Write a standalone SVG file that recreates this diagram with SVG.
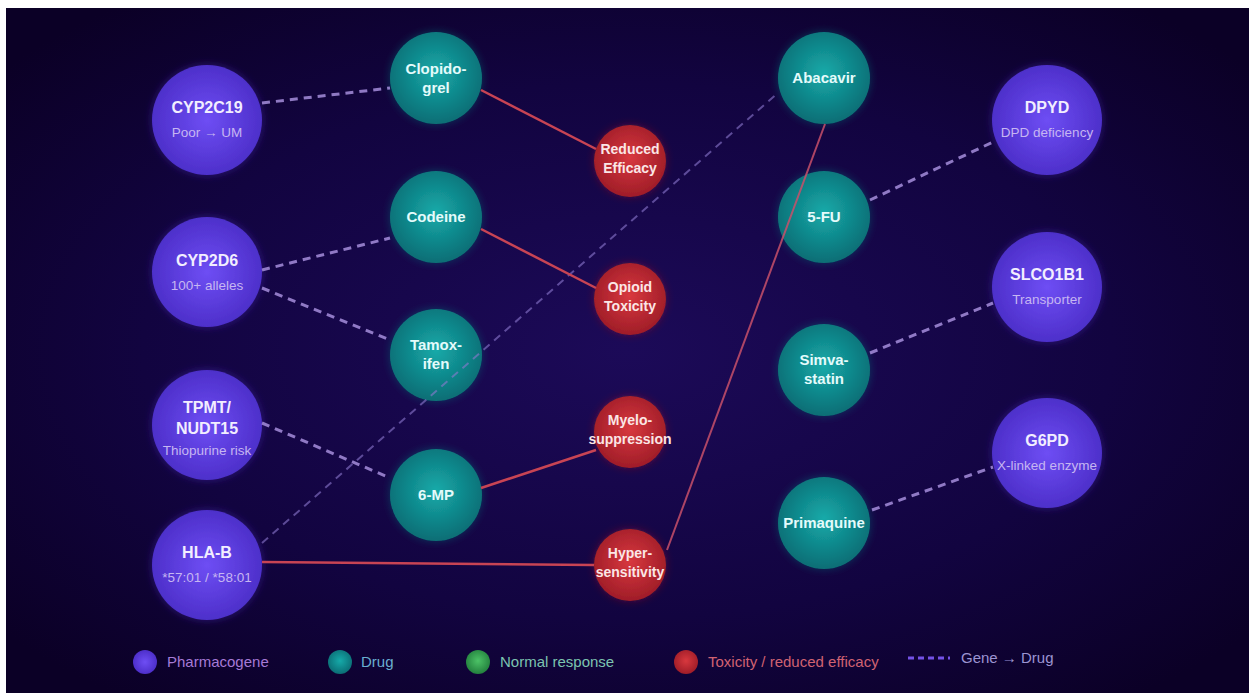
<svg xmlns="http://www.w3.org/2000/svg" width="1249" height="693" viewBox="0 0 1249 693">
  <defs>
    <radialGradient id="bg" cx="50%" cy="50%" r="65%">
      <stop offset="0" stop-color="#1c0a58"/>
      <stop offset="0.6" stop-color="#120440"/>
      <stop offset="1" stop-color="#0b0026"/>
    </radialGradient>
    <radialGradient id="gGene" cx="50%" cy="50%" r="55%">
      <stop offset="0" stop-color="#6e4ef4"/>
      <stop offset="1" stop-color="#4a2cc6"/>
    </radialGradient>
    <radialGradient id="gDrug" cx="50%" cy="45%" r="60%">
      <stop offset="0" stop-color="#16aaa9"/>
      <stop offset="1" stop-color="#0a6870"/>
    </radialGradient>
    <radialGradient id="gOut" cx="50%" cy="45%" r="60%">
      <stop offset="0" stop-color="#d8383e"/>
      <stop offset="1" stop-color="#9a1a26"/>
    </radialGradient>
    <radialGradient id="gOk" cx="50%" cy="45%" r="60%">
      <stop offset="0" stop-color="#4cc266"/>
      <stop offset="1" stop-color="#1f7a3a"/>
    </radialGradient>
    <filter id="glow" x="-30%" y="-30%" width="160%" height="160%">
      <feGaussianBlur in="SourceGraphic" stdDeviation="4" result="b"/>
      <feComponentTransfer in="b" result="bf"><feFuncA type="linear" slope="0.45"/></feComponentTransfer>
      <feMerge><feMergeNode in="bf"/><feMergeNode in="SourceGraphic"/></feMerge>
    </filter>
    <style>
      .gene { fill: url(#gGene); filter: url(#glow); }
      .drug { fill: url(#gDrug); filter: url(#glow); }
      .out { fill: url(#gOut); filter: url(#glow); }
      text { font-family: "Liberation Sans", Arial, sans-serif; text-anchor: middle; }
      .gName { font-size: 16px; font-weight: bold; fill: #f2eeff; }
      .gSub { font-size: 13.5px; fill: #c6b6f2; }
      .dName { font-size: 15px; font-weight: bold; fill: #e4fbfb; }
      .oName { font-size: 14px; font-weight: bold; fill: #fbe6e6; }
      .dash { stroke: #a68edc; stroke-width: 3; stroke-dasharray: 8 6; fill: none; opacity: 0.85; }
      .dashFaint { stroke: #8e7ad0; stroke-width: 2; stroke-dasharray: 8 6; fill: none; opacity: 0.6; }
      .risk { stroke: #c84454; stroke-width: 2.5; fill: none; }
      .riskThin { stroke: #c8506a; stroke-width: 2; fill: none; opacity: 0.85; }
      .leg { font-size: 15px; text-anchor: start; }
    </style>
  </defs>

  <!-- page -->
  <rect x="0" y="0" width="1249" height="693" fill="#ffffff"/>
  <rect x="6" y="8" width="1243" height="685" fill="url(#bg)"/>

  <!-- genes -->
  <g id="node-cyp2c19">
    <circle class="gene" cx="207" cy="120" r="55"/>
    <text class="gName" x="207" y="113">CYP2C19</text>
    <text class="gSub" x="207" y="137">Poor → UM</text>
  </g>
  <g id="node-cyp2d6">
    <circle class="gene" cx="207" cy="272" r="55"/>
    <text class="gName" x="207" y="266">CYP2D6</text>
    <text class="gSub" x="207" y="290">100+ alleles</text>
  </g>
  <g id="node-tpmt">
    <circle class="gene" cx="207" cy="425" r="55"/>
    <text class="gName" x="207" y="413">TPMT/</text>
    <text class="gName" x="207" y="434">NUDT15</text>
    <text class="gSub" x="207" y="455">Thiopurine risk</text>
  </g>
  <g id="node-hlab">
    <circle class="gene" cx="207" cy="565" r="55"/>
    <text class="gName" x="207" y="558">HLA-B</text>
    <text class="gSub" x="207" y="582">*57:01 / *58:01</text>
  </g>
  <g id="node-dpyd">
    <circle class="gene" cx="1047" cy="120" r="55"/>
    <text class="gName" x="1047" y="113">DPYD</text>
    <text class="gSub" x="1047" y="137">DPD deficiency</text>
  </g>
  <g id="node-slco1b1">
    <circle class="gene" cx="1047" cy="287" r="55"/>
    <text class="gName" x="1047" y="280">SLCO1B1</text>
    <text class="gSub" x="1047" y="304">Transporter</text>
  </g>
  <g id="node-g6pd">
    <circle class="gene" cx="1047" cy="453" r="55"/>
    <text class="gName" x="1047" y="446">G6PD</text>
    <text class="gSub" x="1047" y="470">X-linked enzyme</text>
  </g>

  <!-- drugs -->
  <g id="node-clopidogrel">
    <circle class="drug" cx="436" cy="78" r="46"/>
    <text class="dName" x="436" y="74">Clopido-</text>
    <text class="dName" x="436" y="93">grel</text>
  </g>
  <g id="node-codeine">
    <circle class="drug" cx="436" cy="217" r="46"/>
    <text class="dName" x="436" y="222">Codeine</text>
  </g>
  <g id="node-tamoxifen">
    <circle class="drug" cx="436" cy="355" r="46"/>
    <text class="dName" x="436" y="350">Tamox-</text>
    <text class="dName" x="436" y="369">ifen</text>
  </g>
  <g id="node-6mp">
    <circle class="drug" cx="436" cy="495" r="46"/>
    <text class="dName" x="436" y="500">6-MP</text>
  </g>
  <g id="node-abacavir">
    <circle class="drug" cx="824" cy="78" r="46"/>
    <text class="dName" x="824" y="83">Abacavir</text>
  </g>
  <g id="node-5fu">
    <circle class="drug" cx="824" cy="217" r="46"/>
    <text class="dName" x="824" y="222">5-FU</text>
  </g>
  <g id="node-simvastatin">
    <circle class="drug" cx="824" cy="370" r="46"/>
    <text class="dName" x="824" y="365">Simva-</text>
    <text class="dName" x="824" y="384">statin</text>
  </g>
  <g id="node-primaquine">
    <circle class="drug" cx="824" cy="523" r="46"/>
    <text class="dName" x="824" y="528">Primaquine</text>
  </g>

  <!-- outcomes -->
  <g id="node-reduced-efficacy">
    <circle class="out" cx="630" cy="161" r="36"/>
    <text class="oName" x="630" y="154">Reduced</text>
    <text class="oName" x="630" y="173">Efficacy</text>
  </g>
  <g id="node-opioid-toxicity">
    <circle class="out" cx="630" cy="299" r="36"/>
    <text class="oName" x="630" y="292">Opioid</text>
    <text class="oName" x="630" y="311">Toxicity</text>
  </g>
  <g id="node-myelosuppression">
    <circle class="out" cx="630" cy="432" r="36"/>
    <text class="oName" x="630" y="425">Myelo-</text>
    <text class="oName" x="630" y="444">suppression</text>
  </g>
  <g id="node-hypersensitivity">
    <circle class="out" cx="630" cy="565" r="36"/>
    <text class="oName" x="630" y="558">Hyper-</text>
    <text class="oName" x="630" y="577">sensitivity</text>
  </g>

  <!-- connectors -->
  <g id="connectors">
    <line class="dash" x1="262" y1="103" x2="390" y2="88"/>
    <line class="dash" x1="262" y1="270" x2="390" y2="238"/>
    <line class="dash" x1="262" y1="288" x2="390" y2="340"/>
    <line class="dash" x1="262" y1="423" x2="390" y2="478"/>
    <line class="dashFaint" x1="262" y1="543" x2="779" y2="92"/>
    <line class="dash" x1="870" y1="200" x2="993" y2="142"/>
    <line class="dash" x1="870" y1="353" x2="993" y2="303"/>
    <line class="dash" x1="872" y1="510" x2="993" y2="467"/>

    <line class="risk" x1="481" y1="90" x2="596" y2="149"/>
    <line class="risk" x1="481" y1="229" x2="596" y2="288"/>
    <line class="risk" x1="481" y1="488" x2="596" y2="450"/>
    <line class="risk" x1="262" y1="562" x2="594" y2="565"/>
    <line class="riskThin" x1="667" y1="550" x2="825" y2="124"/>
  </g>

  <!-- legend -->
  <g id="legend">
    <circle cx="145" cy="662" r="12" fill="url(#gGene)"/>
    <text class="leg" x="167" y="667" fill="#a67ad6">Pharmacogene</text>
    <circle cx="340" cy="662" r="12" fill="url(#gDrug)"/>
    <text class="leg" x="361" y="667" fill="#6aaed0">Drug</text>
    <circle cx="478" cy="662" r="12" fill="url(#gOk)"/>
    <text class="leg" x="500" y="667" fill="#7cc4b0">Normal response</text>
    <circle cx="686" cy="662" r="12" fill="url(#gOut)"/>
    <text class="leg" x="708" y="667" fill="#d06272">Toxicity / reduced efficacy</text>
    <line x1="908" y1="658" x2="950" y2="658" stroke="#7452e6" stroke-width="3" stroke-dasharray="6 4"/>
    <text class="leg" x="961" y="663" fill="#9c94d2">Gene → Drug</text>
  </g>
</svg>
